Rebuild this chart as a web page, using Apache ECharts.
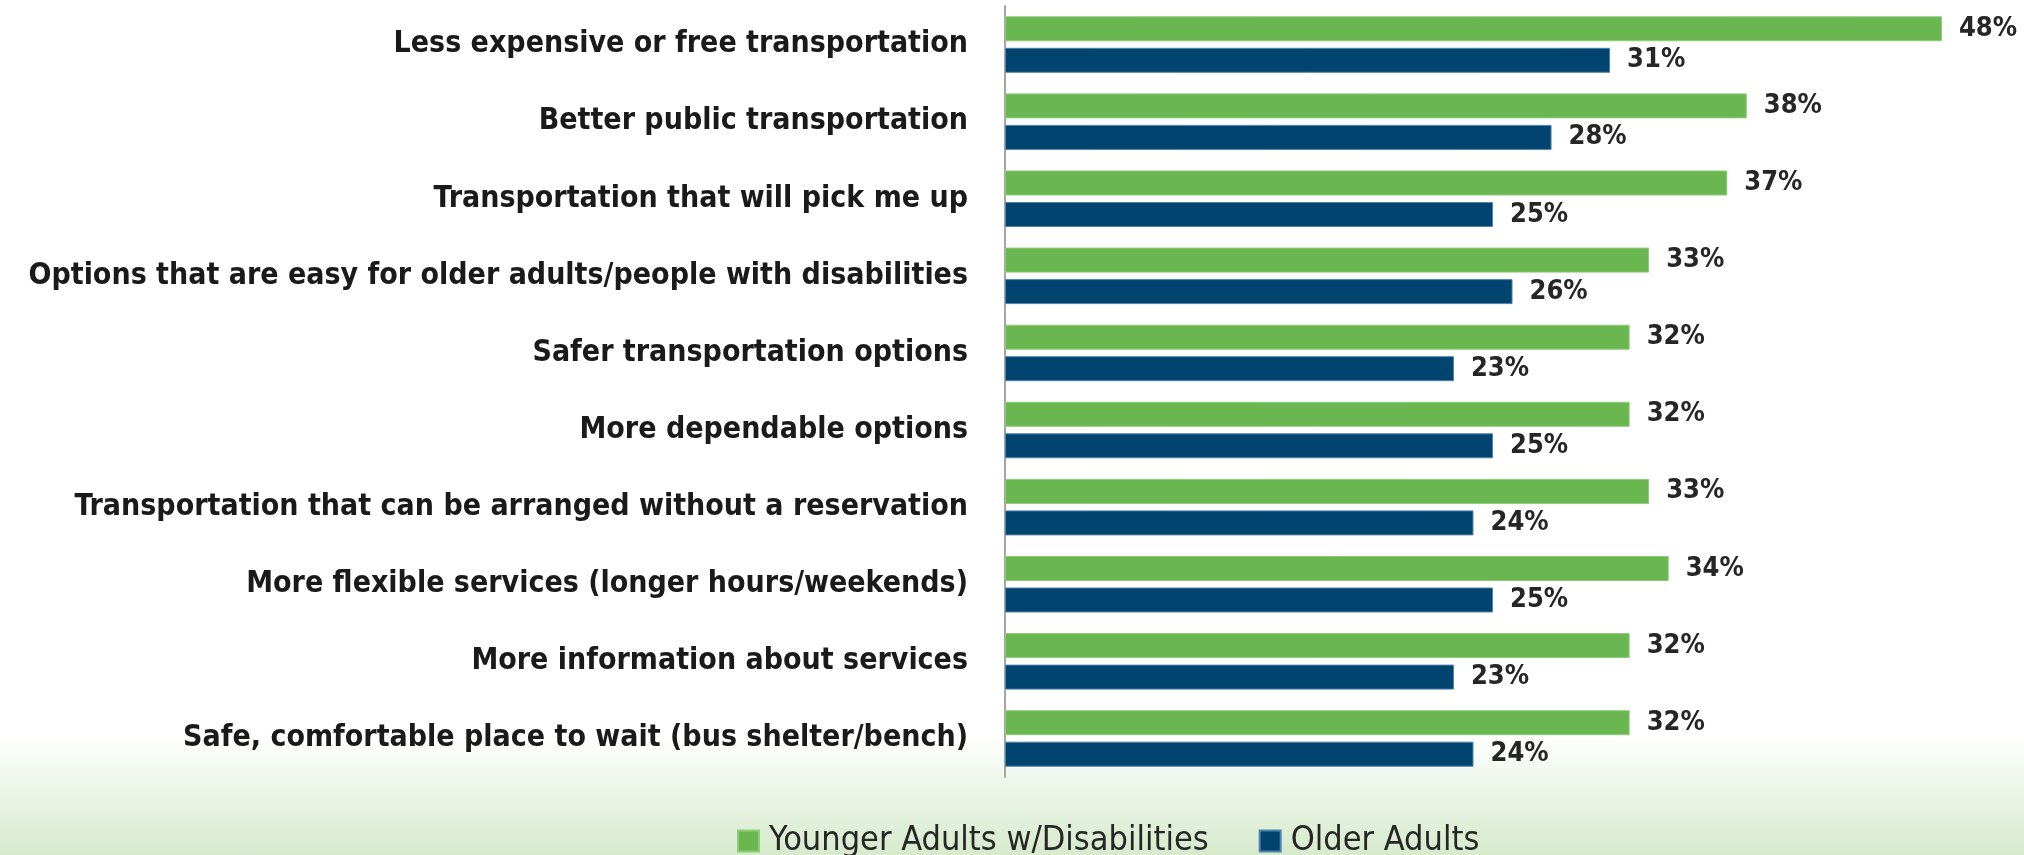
<!DOCTYPE html>
<html>
<head>
<meta charset="utf-8">
<script src="https://cdn.jsdelivr.net/npm/echarts@6/dist/echarts.min.js"></script>
<style>
  html, body {
    margin: 0;
    padding: 0;
  }
  #chart {
    width: 2024px;
    height: 855px;
    background: linear-gradient(to bottom, #ffffff 0%, #ffffff 86%, #d6eacc 100%);
  }
</style>
</head>
<body>
<div id="chart"></div>
<script>
const categories = [
  'Less expensive or free transportation',
  'Better public transportation',
  'Transportation that will pick me up',
  'Options that are easy for older adults/people with disabilities',
  'Safer transportation options',
  'More dependable options',
  'Transportation that can be arranged without a reservation',
  'More flexible services (longer hours/weekends)',
  'More information about services',
  'Safe, comfortable place to wait (bus shelter/bench)'
]
const younger = [48, 38, 37, 33, 32, 32, 33, 34, 32, 32]
const older = [31, 28, 25, 26, 23, 25, 24, 25, 23, 24]

const font = `'Liberation Sans Narrow', 'DejaVu Sans Condensed', 'Arial Narrow', sans-serif`

const chart = echarts.init(document.getElementById('chart'))

const labelStyle = {
  show: true,
  position: 'right',
  distance: 17,
  formatter: '{c}%',
  color: '#262626',
  fontWeight: 'bold',
  fontSize: 27,
  fontFamily: font
}

chart.setOption({
  animation: false,
  grid: {
    left: 1005,
    right: 43,
    top: 6,
    bottom: 78
  },
  legend: {
    top: 819,
    left: 732,
    itemWidth: 21,
    itemHeight: 21,
    itemGap: 50,
    icon: 'rect',
    textStyle: {
      color: '#262626',
      fontSize: 34,
      fontFamily: font,
      padding: [0, 0, 0, 5]
    },
    data: ['Younger Adults w/Disabilities', 'Older Adults']
  },
  xAxis: {
    type: 'value',
    min: 0,
    max: 50,
    show: false,
    splitLine: { show: false }
  },
  yAxis: {
    type: 'category',
    inverse: true,
    data: categories,
    axisLine: {
      show: true,
      lineStyle: { color: '#a6a6a6', width: 2 }
    },
    axisTick: { show: false },
    axisLabel: {
      margin: 37,
      color: '#1a1a1a',
      fontWeight: 'bold',
      fontSize: 30,
      fontFamily: font
    }
  },
  series: [
    {
      name: 'Younger Adults w/Disabilities',
      type: 'bar',
      data: younger,
      barWidth: 25,
      barGap: '26%',
      itemStyle: {
        color: '#6ab650',
        borderColor: '#8fcc7a',
        borderWidth: 1
      },
      label: labelStyle
    },
    {
      name: 'Older Adults',
      type: 'bar',
      data: older,
      barWidth: 25,
      itemStyle: {
        color: '#00446f',
        borderColor: '#4f82ad',
        borderWidth: 1
      },
      label: labelStyle
    }
  ]
})
</script>
</body>
</html>
